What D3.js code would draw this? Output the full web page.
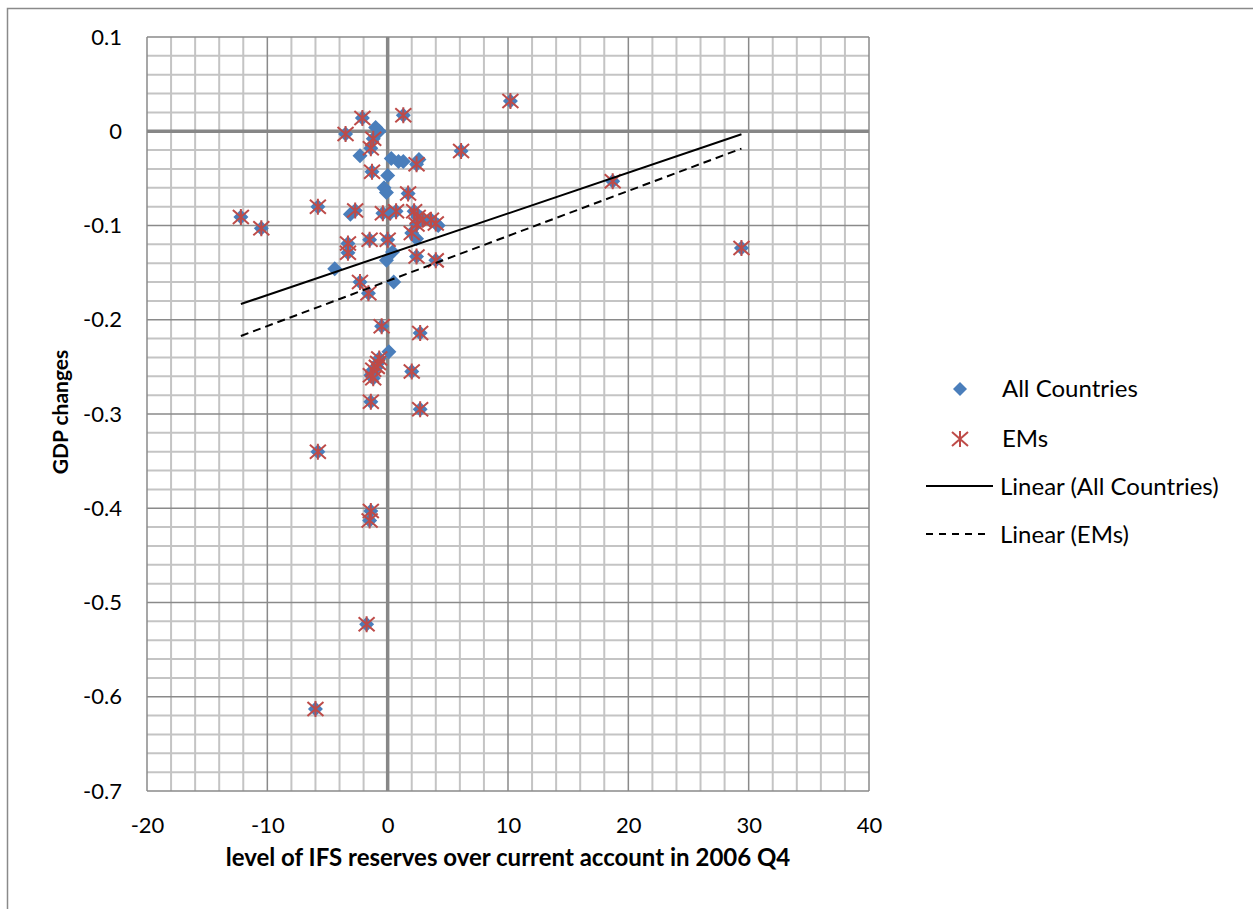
<!DOCTYPE html>
<html>
<head>
<meta charset="utf-8">
<script src="https://cdn.jsdelivr.net/npm/d3@7"></script>
<style>
  html, body { margin: 0; padding: 0; background: #fff; }
  svg { display: block; }
  text { font-family: Lato, "Open Sans", "Noto Sans", sans-serif; fill: #000; }
</style>
</head>
<body>
<svg id="chart" width="1253" height="909"></svg>
<script>
// ---------------- DATA ----------------
// Emerging markets (also part of "All Countries")
const emX = [-2.1, 1.3, 10.2, -3.5, -1.2, -1.4, -1.3, 2.4, 6.1, 1.7,
             -2.7, -0.4, 0.7, 2.2, 2.5, 2.9, 2.4, 2.0, 3.6, 4.0,
             -3.3, -3.3, -1.5, 0.0, 2.4, 4.0, -2.3, -1.6, -0.5, 2.7,
             -0.7, -0.8, -0.9, -1.2, -1.4, -1.2, 2.0, -1.4, 2.7, -5.8,
             -1.4, -1.5, -1.75, -6.0, -12.2, -10.5, -5.8, 18.7, 29.4];
const emY = [0.014, 0.017, 0.032, -0.003, -0.008, -0.018, -0.043, -0.035, -0.021, -0.066,
             -0.084, -0.087, -0.085, -0.085, -0.091, -0.094, -0.099, -0.108, -0.094, -0.098,
             -0.119, -0.129, -0.115, -0.115, -0.133, -0.137, -0.160, -0.172, -0.207, -0.214,
             -0.241, -0.246, -0.250, -0.253, -0.259, -0.262, -0.255, -0.287, -0.295, -0.340,
             -0.403, -0.413, -0.523, -0.613, -0.091, -0.103, -0.080, -0.053, -0.124];
// Other countries (non-EM members of "All Countries")
const otherX = [-1.0, -0.7, -2.3, 0.3, 0.9, 1.3, 0.0, -0.3, -0.1, 2.6,
                -3.1, 0.2, 4.2, 2.4, -0.1, 0.4, -4.4, 0.5, 0.1, 2.8];
const otherY = [0.004, 0.000, -0.026, -0.029, -0.032, -0.032, -0.047, -0.060, -0.065, -0.030,
                -0.088, -0.087, -0.100, -0.114, -0.137, -0.128, -0.146, -0.160, -0.234, -0.092];
// Linear trendlines (slope, intercept)
const trendNames = ["Linear (All Countries)", "Linear (EMs)"];
const trendSlope = [0.00433, 0.00478];
const trendIntercept = [-0.1305, -0.1589];

const xTicks = [-20, -10, 0, 10, 20, 30, 40];
const xTickLabels = ["-20", "-10", "0", "10", "20", "30", "40"];
const yTicks = [0.1, 0, -0.1, -0.2, -0.3, -0.4, -0.5, -0.6, -0.7];
const yTickLabels = ["0.1", "0", "-0.1", "-0.2", "-0.3", "-0.4", "-0.5", "-0.6", "-0.7"];
const seriesNames = ["All Countries", "EMs"];
const xTitle = "level of IFS reserves over current account in 2006 Q4";
const yTitle = "GDP changes";

// ---------------- LAYOUT ----------------
const svg = d3.select("#chart");
const L = 147, R = 869, T = 37, B = 791;
const x = d3.scaleLinear().domain([-20, 40]).range([L, R]);
const y = d3.scaleLinear().domain([-0.7, 0.1]).range([B, T]);

const BLUE = "#4a7ebb", RED = "#be4b48";

// outer chart frame
svg.append("path").attr("d", `M7.5,909 L7.5,8.5 L1253,8.5`)
  .attr("fill", "none").attr("stroke", "#8a8a8a").attr("stroke-width", 1.5);

const grid = svg.append("g");
// minor grid
const minorX = d3.range(-20, 40.001, 2).filter(v => Math.abs(v % 10) > 1e-6);
const minorY = d3.range(-0.7, 0.1001, 0.02).filter(v => Math.abs(Math.round(v * 100) % 10) !== 0);
grid.selectAll(".mx").data(minorX).join("line")
  .attr("x1", d => x(d)).attr("x2", d => x(d)).attr("y1", T).attr("y2", B)
  .attr("stroke", "#c4c4c4").attr("stroke-width", 2);
grid.selectAll(".my").data(minorY).join("line")
  .attr("x1", L).attr("x2", R).attr("y1", d => y(d)).attr("y2", d => y(d))
  .attr("stroke", "#c4c4c4").attr("stroke-width", 2);
// major grid
grid.selectAll(".Mx").data(xTicks.filter(v => v !== 0)).join("line")
  .attr("x1", d => x(d)).attr("x2", d => x(d)).attr("y1", T).attr("y2", B)
  .attr("stroke", "#8a8a8a").attr("stroke-width", 1.5);
grid.selectAll(".My").data(yTicks.filter(v => v !== 0)).join("line")
  .attr("x1", L).attr("x2", R).attr("y1", d => y(d)).attr("y2", d => y(d))
  .attr("stroke", "#8a8a8a").attr("stroke-width", 1.5);
// zero axes
grid.append("line").attr("x1", x(0)).attr("x2", x(0)).attr("y1", T).attr("y2", B)
  .attr("stroke", "#878787").attr("stroke-width", 3.5);
grid.append("line").attr("x1", L).attr("x2", R).attr("y1", y(0)).attr("y2", y(0))
  .attr("stroke", "#878787").attr("stroke-width", 3.5);

// axes (labels only)
const yAxis = d3.axisLeft(y).tickValues(yTicks).tickSize(0).tickPadding(25)
  .tickFormat((d, i) => yTickLabels[i]);
const gy = svg.append("g").attr("transform", `translate(${L},0)`).call(yAxis);
gy.select(".domain").remove();
gy.selectAll("text").attr("font-size", 22).attr("font-family", "Lato").attr("fill", "#000");

const xAxis = d3.axisBottom(x).tickValues(xTicks).tickSize(0)
  .tickFormat((d, i) => xTickLabels[i]);
const gx = svg.append("g").attr("transform", `translate(0,${B})`).call(xAxis);
gx.select(".domain").remove();
gx.selectAll("text").attr("font-size", 22).attr("font-family", "Lato").attr("fill", "#000")
  .attr("y", 42).attr("dy", 0);

// axis titles
svg.append("text").attr("x", 508).attr("y", 866).attr("text-anchor", "middle")
  .attr("font-weight", "bold").attr("font-size", 24).text(xTitle);
svg.append("text").attr("transform", "translate(68,412) rotate(-90)")
  .attr("text-anchor", "middle").attr("font-weight", "bold").attr("font-size", 21).text(yTitle);

// markers
const diamond = (s) => `M0,${-s} L${s},0 L0,${s} L${-s},0 Z`;
const star = "M-8,-7 L8,7 M-8,7 L8,-7 M0,-8 L0,8";

const allX = emX.concat(otherX);
const allY = emY.concat(otherY);
const allPts = allX.map((v, i) => [v, allY[i]]);
const emPts = emX.map((v, i) => [v, emY[i]]);

svg.append("g").selectAll("path").data(allPts).join("path")
  .attr("transform", d => `translate(${x(d[0])},${y(d[1])})`)
  .attr("d", diamond(7.5)).attr("fill", BLUE);

svg.append("g").selectAll("path").data(emPts).join("path")
  .attr("transform", d => `translate(${x(d[0])},${y(d[1])})`)
  .attr("d", star).attr("fill", "none").attr("stroke", RED).attr("stroke-width", 2);

// trendlines across data range
const xMin = d3.min(allX), xMax = d3.max(allX);
const emMin = d3.min(emX), emMax = d3.max(emX);
const ranges = [[xMin, xMax], [emMin, emMax]];
const dashes = [null, "8,5"];
trendSlope.forEach((m, i) => {
  const [a, b] = ranges[i];
  svg.append("line")
    .attr("x1", x(a)).attr("y1", y(trendIntercept[i] + m * a))
    .attr("x2", x(b)).attr("y2", y(trendIntercept[i] + m * b))
    .attr("stroke", "#000").attr("stroke-width", 2)
    .attr("stroke-dasharray", dashes[i]);
});

// legend
const lg = svg.append("g").attr("font-size", 24);
lg.append("path").attr("transform", "translate(960,389)").attr("d", diamond(7)).attr("fill", BLUE);
lg.append("text").attr("x", 1002).attr("y", 397).text(seriesNames[0]);
lg.append("path").attr("transform", "translate(960,439)").attr("d", star)
  .attr("fill", "none").attr("stroke", RED).attr("stroke-width", 2);
lg.append("text").attr("x", 1002).attr("y", 447).text(seriesNames[1]);
lg.append("line").attr("x1", 926).attr("x2", 993).attr("y1", 486).attr("y2", 486)
  .attr("stroke", "#000").attr("stroke-width", 2);
lg.append("text").attr("x", 1000).attr("y", 495).text(trendNames[0]);
lg.append("line").attr("x1", 926).attr("x2", 988).attr("y1", 534).attr("y2", 534)
  .attr("stroke", "#000").attr("stroke-width", 2).attr("stroke-dasharray", "7,6");
lg.append("text").attr("x", 1000).attr("y", 543).text(trendNames[1]);
</script>
</body>
</html>
